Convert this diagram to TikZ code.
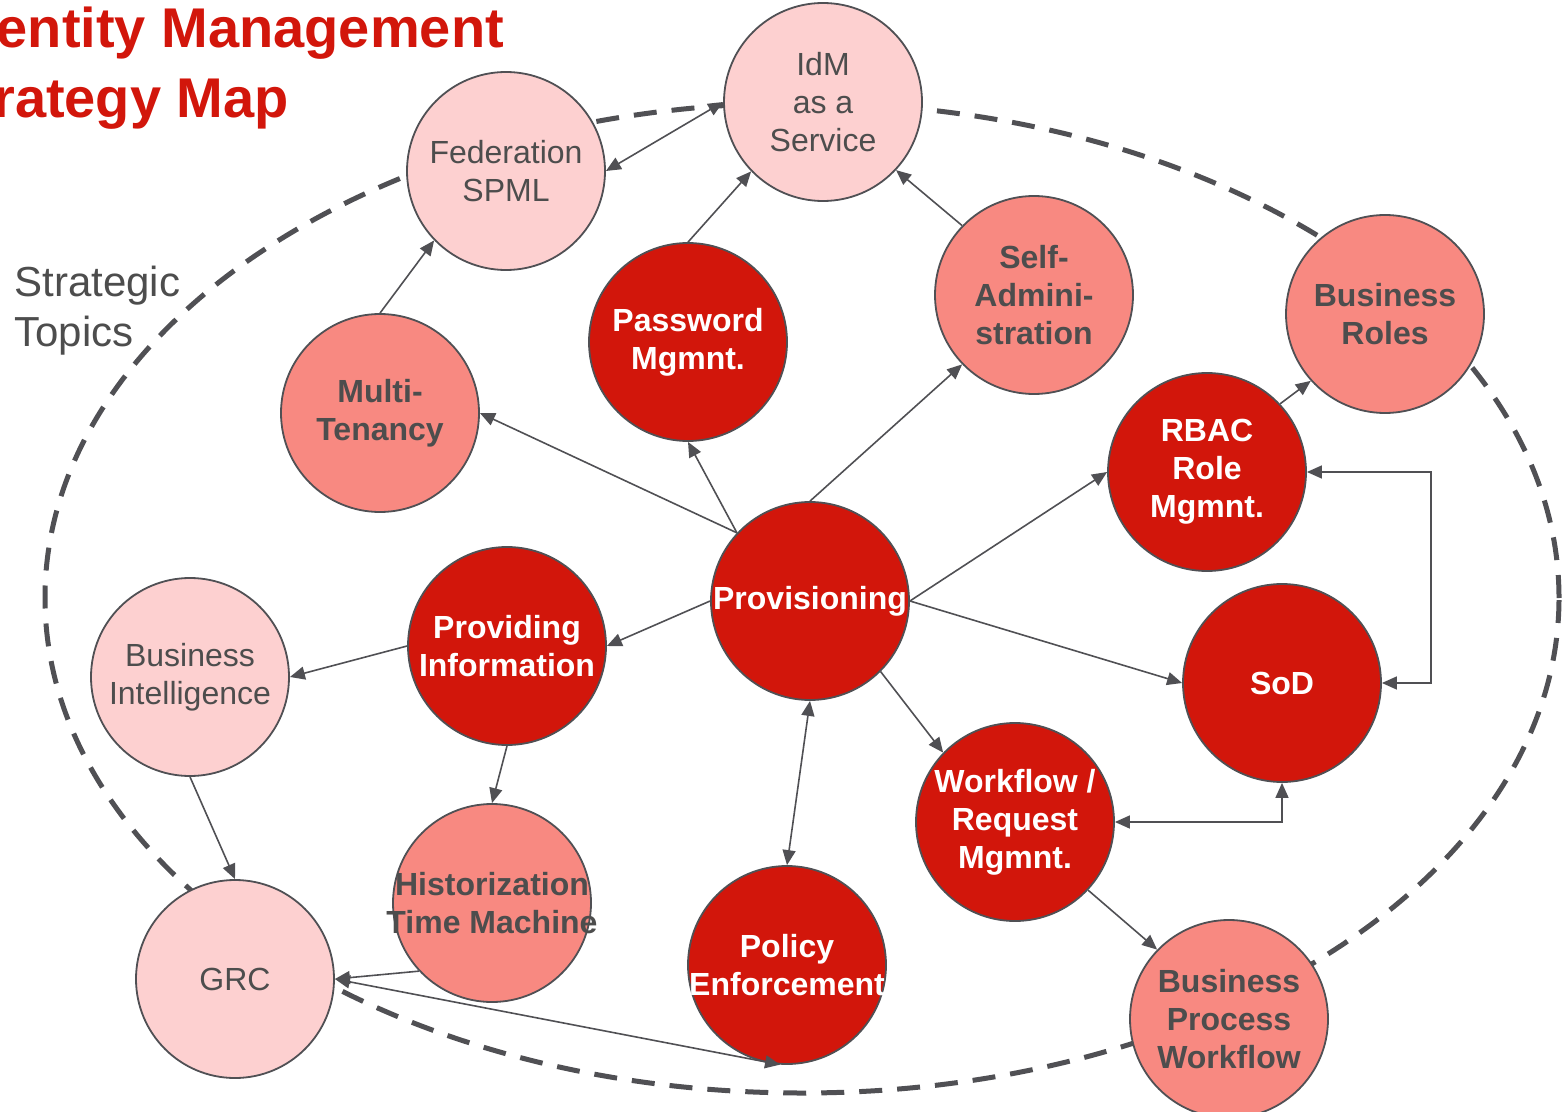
\documentclass[tikz,border=0pt]{standalone}
\usepackage{fontspec}
\setmainfont{Liberation Sans}
\usetikzlibrary{arrows.meta}

\definecolor{idmred}{RGB}{210,22,11}
\definecolor{idmsalmon}{RGB}{248,137,129}
\definecolor{idmpink}{RGB}{253,208,208}
\definecolor{idmgray}{RGB}{80,80,84}
\definecolor{idmtext}{RGB}{77,77,77}

\tikzset{
  topic/.style={circle, draw=idmgray, line width=0.9pt, inner sep=0pt,
    minimum size=99pt, align=center, font=\fontsize{16}{19}\selectfont},
  core/.style={topic, fill=idmred, text=white, font=\bfseries\fontsize{16}{19}\selectfont},
  near/.style={topic, fill=idmsalmon, text=idmtext, font=\bfseries\fontsize{16}{19}\selectfont},
  far/.style={topic, fill=idmpink, text=idmtext},
  link/.style={draw=idmgray, line width=0.8pt, -{Triangle[length=7.5pt,width=6.5pt]}},
  twoway/.style={link, {Triangle[length=7.5pt,width=6.5pt]}-{Triangle[length=7.5pt,width=6.5pt]}},
  headline/.style={anchor=base east, text=idmred, font=\bfseries\fontsize{28}{34}\selectfont},
}
% lines that may stick out of their circle
\newcommand{\wideline}[1]{\makebox[0pt]{#1}}

\begin{document}
\begin{tikzpicture}[x=0.5pt, y=-0.5pt]
\useasboundingbox (0,0) rectangle (1562,1112);

% strategic topics boundary
\draw[idmgray, line width=2.5pt, dash pattern=on 11.5pt off 7.5pt]
  (802,598) ellipse [x radius=378.5pt, y radius=247.5pt];

% title
\node[headline] (title1) at (511,48) {Identity Management};
\node[headline] (title2) at (296,118) {Strategy Map};
\node[anchor=west, align=left, inner sep=0pt, text=idmtext, font=\fontsize{21}{25}\selectfont] (strat) at (14,311) {Strategic\\Topics};

% topics
\node[far]  (idm)  at (823,102)  {IdM\\as a\\Service};
\node[far]  (fed)  at (506,171)  {Federation\\SPML};
\node[near] (self) at (1034,295) {Self-\\Admini-\\stration};
\node[near] (broles) at (1385,314) {Business\\Roles};
\node[core] (pwd)  at (688,342)  {Password\\Mgmnt.};
\node[near] (mten) at (380,413)  {Multi-\\Tenancy};
\node[core] (rbac) at (1207,472) {RBAC\\Role\\Mgmnt.};
\node[core] (prov) at (810,601)  {\wideline{Provisioning}};
\node[core] (pinfo) at (507,646) {Providing\\Information};
\node[core] (sod)  at (1282,683) {SoD};
\node[far]  (bi)   at (190,677)  {Business\\Intelligence};
\node[core] (wf)   at (1015,822) {Workflow /\\Request\\Mgmnt.};
\node[near] (hist) at (492,903)  {\wideline{Historization}\\\wideline{Time Machine}};
\node[core] (pol)  at (787,965)  {\wideline{Policy}\\\wideline{Enforcement}};
\node[far]  (grc)  at (235,979)  {GRC};
\node[near] (bpw)  at (1229,1019) {Business\\Process\\Workflow};

% connections
\draw[twoway] (fed.east) -- (idm.west);
\draw[link] (pwd.north) -- (idm.224);
\draw[link] (self.136) -- (idm.317);
\draw[link] (mten.north) -- (fed.224);
\draw[link] (prov.137) -- (mten.east);
\draw[link] (prov.137) -- (pwd.south);
\draw[link] (prov.north) -- (self.224);
\draw[link] (prov.east) -- (rbac.west);
\draw[link] (rbac.43) -- (broles.222);
\draw[link] (prov.east) -- (sod.west);
\draw[twoway] (rbac.east) -- ++(124,0) |- (sod.east);
\draw[twoway] (wf.east) -| (sod.south);
\draw[link] (prov.315) -- (wf.136);
\draw[link] (wf.317) -- (bpw.136);
\draw[twoway] (prov.south) -- (pol.north);
\draw[link] (prov.west) -- (pinfo.east);
\draw[link] (pinfo.west) -- (bi.east);
\draw[link] (pinfo.south) -- (hist.north);
\draw[link] (bi.south) -- (grc.north);
\draw[link] (hist.223) -- (grc.east);
\draw[twoway] (grc.east) -- (pol.266);
\end{tikzpicture}
\end{document}
